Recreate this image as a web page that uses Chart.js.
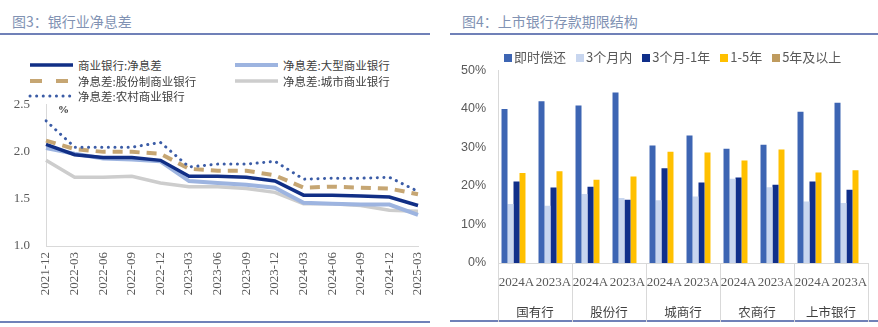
<!DOCTYPE html>
<html>
<head>
<meta charset="utf-8">
<script src="https://cdn.jsdelivr.net/npm/chart.js@4.4.0/dist/chart.umd.min.js"></script>
<style>
  body { margin: 0; width: 878px; height: 327px; background: #fff; position: relative; overflow: hidden;
         font-family: "Noto Sans CJK SC", sans-serif; }
  .title { position: absolute; top: 11px; font-size: 14px; line-height: 20px; color: #8192B3; }
  .rule { position: absolute; height: 2px; background: #7081B8; }
  .box { position: absolute; }
  .lg { position: absolute; font-size: 11.5px; line-height: 14px; color: #404040; white-space: nowrap; }
  .lg svg { position: absolute; left: -50px; top: 3px; }
  .unit { position: absolute; left: 58px; top: 103px; font: bold 11px "Liberation Serif", serif; color: #333; }
  #legendR { position: absolute; left: 504px; top: 48px; display: flex; gap: 10px; font-size: 13px;
             line-height: 18px; color: #595959; white-space: nowrap; }
  #legendR span.sq { display: inline-block; width: 8px; height: 8px; margin-right: 2px; vertical-align: 0px; }
</style>
</head>
<body>
<div class="title" style="left:12px">图3：银行业净息差</div>
<div class="title" style="left:462px">图4：上市银行存款期限结构</div>
<div class="rule" style="left:0;width:430px;top:33px"></div>
<div class="rule" style="left:450px;width:428px;top:33px"></div>
<div class="rule" style="left:0;width:430px;top:321px"></div>
<div class="rule" style="left:450px;width:428px;top:320px"></div>

<div class="box" style="left:0;top:81px;width:440px;height:224px"><canvas id="nimChart"></canvas></div>
<div class="box" style="left:440px;top:51px;width:438px;height:274px"><canvas id="depositChart"></canvas></div>

<div id="legendL"></div>
<div class="unit">%</div>
<div id="legendR"></div>

<script>
// 图3 净息差 (%)
const quarters = ["2021-12", "2022-03", "2022-06", "2022-09", "2022-12", "2023-03", "2023-06",
  "2023-09", "2023-12", "2024-03", "2024-06", "2024-09", "2024-12", "2025-03"];
const nimCommercial = [2.08, 1.97, 1.94, 1.94, 1.91, 1.74, 1.74, 1.73, 1.69, 1.54, 1.54, 1.53, 1.52, 1.43];
const nimLarge = [2.04, 1.98, 1.93, 1.92, 1.90, 1.69, 1.67, 1.65, 1.62, 1.46, 1.45, 1.44, 1.44, 1.33];
const nimJoint = [2.12, 2.03, 2.00, 2.00, 1.98, 1.82, 1.80, 1.80, 1.75, 1.62, 1.63, 1.62, 1.61, 1.55];
const nimCity = [1.91, 1.73, 1.73, 1.74, 1.67, 1.63, 1.63, 1.61, 1.57, 1.45, 1.45, 1.43, 1.38, 1.37];
const nimRural = [2.33, 2.05, 2.05, 2.05, 2.10, 1.84, 1.87, 1.87, 1.90, 1.71, 1.72, 1.72, 1.73, 1.58];

// 图4 存款期限结构 (%)
const bankGroups = ["国有行", "股份行", "城商行", "农商行", "上市银行"];
const years = ["2024A", "2023A", "2024A", "2023A", "2024A", "2023A", "2024A", "2023A", "2024A", "2023A"];
const onDemand = [40.0, 42.0, 40.9, 44.3, 30.5, 33.1, 29.7, 30.7, 39.3, 41.6];
const within3m = [15.3, 14.9, 17.9, 16.9, 16.3, 17.3, 21.9, 19.7, 16.0, 15.6];
const m3to1y = [21.2, 19.6, 19.8, 16.4, 24.6, 20.9, 22.2, 20.3, 21.2, 19.0];
const y1to5 = [23.4, 23.8, 21.6, 22.5, 28.9, 28.7, 26.6, 29.5, 23.5, 24.1];
const over5y = [0, 0, 0, 0, 0, 0, 0, 0, 0, 0];

Chart.defaults.font.family = '"Noto Sans CJK SC", sans-serif';
Chart.defaults.color = "#595959";
Chart.defaults.animation = false;

const axisGray = "#D9D9D9";

// line series, legend built from same list
const lineSeries = [
  { label: "商业银行:净息差", data: nimCommercial, color: "#112F86", width: 3.5, dash: [], cap: "butt", col: 0, row: 0, sample: "" },
  { label: "净息差:大型商业银行", data: nimLarge, color: "#9DB4E0", width: 4, dash: [], cap: "butt", col: 1, row: 0, sample: "" },
  { label: "净息差:股份制商业银行", data: nimJoint, color: "#C6A673", width: 4, dash: [10, 7], cap: "butt", col: 0, row: 1, sample: "12 14" },
  { label: "净息差:城市商业银行", data: nimCity, color: "#CDCDCD", width: 3.5, dash: [], cap: "butt", col: 1, row: 1, sample: "" },
  { label: "净息差:农村商业银行", data: nimRural, color: "#3B5CA6", width: 3, dash: [0.1, 6.5], cap: "round", col: 0, row: 2, sample: "0.1 6.5" }
];

const legendL = document.getElementById("legendL");
lineSeries.forEach(s => {
  const d = document.createElement("div");
  d.className = "lg";
  d.style.left = (s.col ? 283 : 78) + "px";
  d.style.top = (58 + s.row * 15.5) + "px";
  d.innerHTML = `<svg width="46" height="8"><line x1="2" y1="4" x2="45" y2="4" stroke="${s.color}"
    stroke-width="${s.width}" stroke-linecap="${s.cap}" ${s.sample ? `stroke-dasharray="${s.sample}"` : ""}/></svg>${s.label}`;
  legendL.appendChild(d);
});

new Chart(document.getElementById("nimChart"), {
  type: "line",
  data: {
    labels: quarters,
    datasets: lineSeries.map((s, i) => ({
      label: s.label,
      data: s.data,
      borderColor: s.color,
      borderWidth: s.width,
      borderDash: s.dash,
      borderCapStyle: s.cap,
      pointRadius: 0,
      tension: 0,
      order: [3, 4, 2, 5, 1][i]
    }))
  },
  options: {
    responsive: true,
    maintainAspectRatio: false,
    layout: { padding: { top: 0, right: 22, left: 0, bottom: 0 } },
    plugins: { legend: { display: false }, tooltip: { enabled: false } },
    scales: {
      x: {
        grid: { display: false, drawTicks: false },
        border: { color: axisGray },
        ticks: { autoSkip: false, minRotation: 90, maxRotation: 90, padding: 6,
                 font: { family: '"Liberation Serif", serif', size: 13 } },
        afterFit: s => { s.height = 59; }
      },
      y: {
        min: 1.0, max: 2.5,
        grid: { display: false, drawTicks: false },
        border: { color: axisGray },
        ticks: { stepSize: 0.5, padding: 16, callback: v => v.toFixed(1),
                 font: { family: '"Liberation Serif", serif', size: 13 } },
        afterFit: s => { s.width = 46; }
      }
    }
  }
});

// bar series
const barSeries = [
  { label: "即时偿还", data: onDemand, color: "#3D65B3" },
  { label: "3个月内", data: within3m, color: "#C8D6EF" },
  { label: "3个月-1年", data: m3to1y, color: "#102F8A" },
  { label: "1-5年", data: y1to5, color: "#FFC000" },
  { label: "5年及以上", data: over5y, color: "#BF9B5E" }
];

const legendR = document.getElementById("legendR");
barSeries.forEach(s => {
  const d = document.createElement("div");
  d.innerHTML = `<span class="sq" style="background:${s.color}"></span>${s.label}`;
  legendR.appendChild(d);
});

new Chart(document.getElementById("depositChart"), {
  type: "bar",
  data: {
    labels: years,
    datasets: barSeries.map(s => ({
      label: s.label,
      data: s.data,
      backgroundColor: s.color,
      categoryPercentage: 0.81,
      barPercentage: 1.0
    }))
  },
  options: {
    responsive: true,
    maintainAspectRatio: false,
    layout: { padding: { top: 0, right: 10, left: 0, bottom: 0 } },
    plugins: { legend: { display: false }, tooltip: { enabled: false } },
    scales: {
      x: {
        grid: { offset: true, drawOnChartArea: false, tickLength: 33,
                color: ctx => ((ctx.index ?? 0) % 2 === 0 ? axisGray : "rgba(0,0,0,0)") },
        border: { color: axisGray },
        ticks: { autoSkip: false, maxRotation: 0, padding: -21,
                 font: { family: '"Liberation Serif", serif', size: 13 } },
        afterFit: s => { s.height = 27; }
      },
      x2: {
        type: "category",
        position: "bottom",
        labels: bankGroups,
        offset: true,
        grid: { offset: true, drawOnChartArea: false, tickLength: 32, color: axisGray },
        border: { display: false },
        ticks: { autoSkip: false, maxRotation: 0, padding: -17.5, color: "#404040", font: { size: 12.5 } },
        afterFit: s => { s.height = 35; }
      },
      y: {
        min: 0, max: 50,
        grid: { display: false, drawTicks: false },
        border: { color: axisGray },
        ticks: { stepSize: 10, padding: 12, callback: v => v + "%",
                 font: { family: '"Liberation Sans", sans-serif', size: 12.5 } },
        afterFit: s => { s.width = 58; }
      }
    }
  }
});
</script>
</body>
</html>
